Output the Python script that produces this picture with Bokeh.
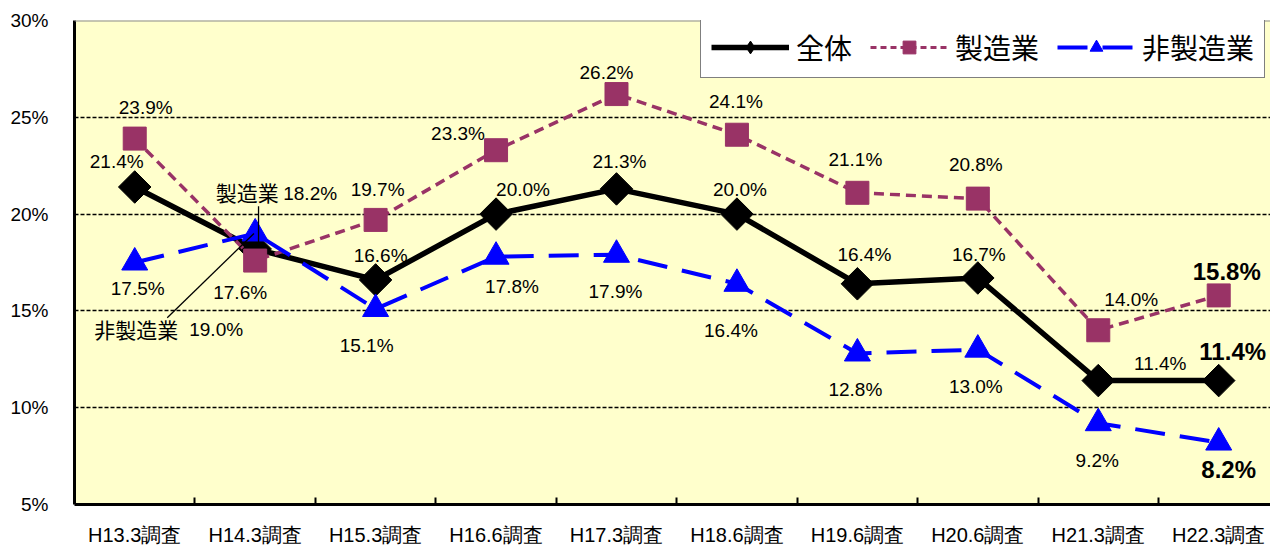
import numpy as np
from bokeh.plotting import figure
from bokeh.models import (Range1d, FixedTicker, Span, Legend, LegendItem,
                          ColumnDataSource, PrintfTickFormatter)
from bokeh.core.properties import value
from bokeh.embed import file_html
from bokeh.resources import INLINE

# ---------------- data ----------------
categories = ["H13.3調査", "H14.3調査", "H15.3調査", "H16.6調査", "H17.3調査",
              "H18.6調査", "H19.6調査", "H20.6調査", "H21.3調査", "H22.3調査"]
total = [21.4, 18.2, 16.6, 20.0, 21.3, 20.0, 16.4, 16.7, 11.4, 11.4]
manufacturing = [23.9, 17.6, 19.7, 23.3, 26.2, 24.1, 21.1, 20.8, 14.0, 15.8]
non_manufacturing = [17.5, 19.0, 15.1, 17.8, 17.9, 16.4, 12.8, 13.0, 9.2, 8.2]
y_ticks = [5, 10, 15, 20, 25, 30]
grid_ticks = [10, 15, 20, 25]
series_names = ["全体", "製造業", "非製造業"]

# label offsets (screen px) relative to each point
total_dx = [-18, 55, 5, 27, 3, 3, 7, 1, 62, 14]
total_dy = [-25, -55, -24, -25, -27, -25, -29, -23, -17, -29]
manu_dx = [11, -15, 2, -38, -10, -1, -2, -2, 33, 8]
manu_dy = [-31, 32, -30, -17, -22, -33, -33, -34, -31, -24]
non_dx = [3, -39, -9, 16, -1, -6, -2, -2, -1, 10]
non_dy = [26, 96, 37, 30, 37, 47, 36, 37, 37, 27]

n = len(categories)
xs = [i + 0.5 for i in range(n)]

LATIN = "Liberation Sans"
CJK = "Noto Sans CJK JP"
PURPLE = "#993366"
BLUE = "#0000FF"

p = figure(width=1270, height=548, output_backend="svg", toolbar_location=None,
           x_range=Range1d(0, 9.93), y_range=Range1d(5, 30),
           min_border_left=74, min_border_right=0, min_border_top=20,
           min_border_bottom=43)
p.background_fill_color = "#FFFFCC"
p.border_fill_color = "white"
p.outline_line_color = None

# axes
p.xaxis.ticker = FixedTicker(ticks=xs, minor_ticks=[i for i in range(1, n)])
p.xaxis.major_label_overrides = {x: c for x, c in zip(xs, categories)}
p.xaxis.major_tick_line_color = None
p.xaxis.major_tick_in = 0
p.xaxis.major_tick_out = 0
p.xaxis.minor_tick_in = 7
p.xaxis.minor_tick_out = 0
p.xaxis.minor_tick_line_width = 2
p.xaxis.minor_tick_line_color = "black"
p.xaxis.axis_line_width = 3
p.xaxis.axis_line_color = "black"
p.xaxis.major_label_text_font = LATIN
p.xaxis.major_label_text_font_size = "20px"
p.xaxis.major_label_text_color = "black"
p.xaxis.major_label_standoff = 19

p.yaxis.ticker = FixedTicker(ticks=y_ticks)
p.yaxis.formatter = PrintfTickFormatter(format="%d%%")
p.yaxis.major_tick_line_color = None
p.yaxis.major_tick_in = 0
p.yaxis.major_tick_out = 0
p.yaxis.minor_tick_line_color = None
p.yaxis.axis_line_width = 3
p.yaxis.axis_line_color = "black"
p.yaxis.major_label_text_font = LATIN
p.yaxis.major_label_text_font_size = "19px"
p.yaxis.major_label_text_color = "black"
p.yaxis.major_label_standoff = 26

p.xgrid.grid_line_color = None
p.ygrid.ticker = FixedTicker(ticks=grid_ticks)
p.ygrid.grid_line_color = "black"
p.ygrid.grid_line_dash = "4 2"
p.ygrid.grid_line_width = 1.3

p.add_layout(Span(location=y_ticks[-1], dimension="width", line_color="#8C8C8C",
                  line_width=2))

# series
r_tl = p.line(xs, total, line_color="black", line_width=5.5)
r_tm = p.scatter(xs, total, marker="square", angle=np.pi / 4, size=23,
                 fill_color="black", line_color="black")
r_ml = p.line(xs, manufacturing, line_color=PURPLE, line_width=3.5, line_dash="10 6")
r_mm = p.scatter(xs, manufacturing, marker="square", size=23,
                 fill_color=PURPLE, line_color=PURPLE)
r_nl = p.line(xs, non_manufacturing, line_color=BLUE, line_width=4,
              line_dash="30 15")
r_nm = p.scatter(xs, non_manufacturing, marker="triangle", size=26,
                 fill_color=BLUE, line_color=BLUE)
# legend-only glyphs
r_tleg = p.scatter([np.nan], [np.nan], marker="diamond", size=20,
                   fill_color="black", line_color="black")
r_mleg = p.line([np.nan, np.nan], [np.nan, np.nan], line_color=PURPLE,
                line_width=3, line_dash="6 4")

# data labels
def labels(vals, dx, dy):
    txt = ["%.1f%%" % v for v in vals]
    src = ColumnDataSource(dict(x=xs[:-1], y=vals[:-1], t=txt[:-1],
                                dx=dx[:-1], dy=dy[:-1]))
    p.text("x", "y", text="t", x_offset="dx", y_offset="dy", source=src,
           text_font=value(LATIN), text_font_size="19px", text_color="black",
           text_align="center", text_baseline="middle")
    p.text([xs[-1]], [vals[-1]], text=[txt[-1]], x_offset=dx[-1], y_offset=dy[-1],
           text_font=value(LATIN), text_font_size="24px", text_font_style="bold",
           text_color="black", text_align="center", text_baseline="middle")

labels(total, total_dx, total_dy)
labels(manufacturing, manu_dx, manu_dy)
labels(non_manufacturing, non_dx, non_dy)

# callouts near H14.3
p.text([xs[1]], [total[1]], text=["製造業"], x_offset=-8, y_offset=-57,
       text_font=value(CJK), text_font_size="21px", text_color="black",
       text_align="center", text_baseline="middle")
p.text([xs[1]], [non_manufacturing[1]], text=["非製造業"], x_offset=-119, y_offset=96,
       text_font=value(CJK), text_font_size="21px", text_color="black",
       text_align="center", text_baseline="middle")
p.segment(x0=[xs[1] + 0.028, xs[1] - 0.01], y0=[total[1] + 2.2, non_manufacturing[1]],
          x1=[xs[1] + 0.028, xs[1] - 0.73], y1=[total[1] + 0.05, non_manufacturing[1] - 4.35],
          line_color="black", line_width=1.3)

# legend
legend = Legend(items=[LegendItem(label=series_names[0], renderers=[r_tl, r_tleg]),
                       LegendItem(label=series_names[1], renderers=[r_mleg, r_mm]),
                       LegendItem(label=series_names[2], renderers=[r_nl, r_nm])],
                orientation="horizontal", location=(626, 426))
legend.label_text_font = CJK
legend.label_text_font_size = "28px"
legend.label_text_color = "black"
legend.glyph_width = 78
legend.glyph_height = 32
legend.label_height = 32
legend.label_standoff = 7
legend.spacing = 18
legend.padding = 10
legend.margin = 0
legend.border_line_color = "black"
legend.border_line_width = 1.5
legend.background_fill_color = "white"
legend.background_fill_alpha = 1
p.add_layout(legend, "center")

open("out.html", "w").write(file_html(p, INLINE))
